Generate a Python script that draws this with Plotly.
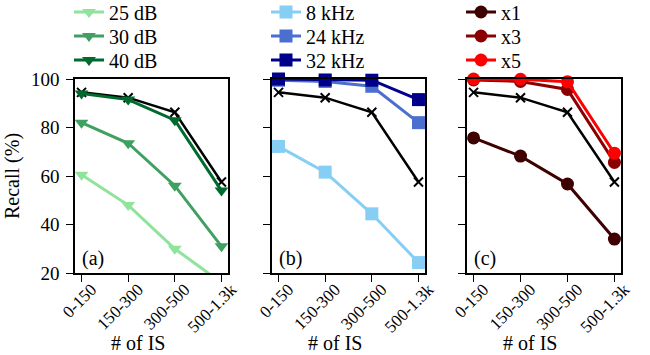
import plotly.graph_objects as go
from plotly.subplots import make_subplots

categories = ["0-150", "150-300", "300-500", "500-1.3k"]
baseline = [94.5, 92.3, 86.3, 57.5]

snr_names = ["25 dB", "30 dB", "40 dB"]
snr_values = [
    [60.5, 48, 30, 16],
    [82, 73.5, 56, 31],
    [94, 91.5, 83, 54],
]
snr_colors = ["#8fe39b", "#40a062", "#006b2e"]

rate_names = ["8 kHz", "24 kHz", "32 kHz"]
rate_values = [
    [72.2, 61.6, 44.4, 24.3],
    [99.5, 99, 97, 82],
    [100, 99.6, 99.5, 91.5],
]
rate_colors = ["#87cef5", "#4b6fcf", "#00008b"]

mult_names = ["x1", "x3", "x5"]
mult_values = [
    [75.7, 68.2, 56.7, 34],
    [99.6, 99, 95.7, 65.6],
    [100, 99.9, 98.9, 69.4],
]
mult_colors = ["#3f0000", "#8b0000", "#ff0000"]

panel_labels = ["(a)", "(b)", "(c)"]
x_title = "# of IS"
y_title = "Recall (%)"

FONT = "Liberation Serif"
TXT = "black"

W, H = 650, 355
ML, MR, MT, MB = 75, 29, 79, 82
PW, PH = W - ML - MR, H - MT - MB

def px_x(p):
    return (p - ML) / PW

def px_y(p):
    return (H - MB - p) / PH

fig = make_subplots(rows=1, cols=3)
panel_px = [(75, 228), (272, 425), (467, 621)]
doms = [[px_x(a), px_x(b)] for a, b in panel_px]

groups = [
    (snr_names, snr_values, snr_colors, "triangle-down", 12),
    (rate_names, rate_values, rate_colors, "square", 13),
    (mult_names, mult_values, mult_colors, "circle", 13),
]

row_y = [12, 36, 60]
legend_layout = {}
k = 0
for i, (names, vals, cols, sym, msz) in enumerate(groups):
    col = i + 1
    fig.add_trace(go.Scatter(
        x=categories, y=baseline, mode="lines+markers",
        line=dict(color="black", width=2.5),
        marker=dict(symbol="x-thin", size=9, line=dict(color="black", width=2)),
        showlegend=False, cliponaxis=False,
    ), row=1, col=col)
    for j, (n, v, c) in enumerate(zip(names, vals, cols)):
        k += 1
        lid = "legend" if k == 1 else f"legend{k}"
        clip = (n == "25 dB")
        fig.add_trace(go.Scatter(
            x=categories, y=v, mode="lines+markers", name=n,
            line=dict(color=c, width=3),
            marker=dict(symbol=sym, size=msz, color=c),
            legend=lid, cliponaxis=clip,
        ), row=1, col=col)
        legend_layout[lid] = dict(
            x=px_x(panel_px[i][0] - 6), y=px_y(row_y[j]), xanchor="left", yanchor="middle",
            bgcolor="rgba(0,0,0,0)", font=dict(family=FONT, size=20, color=TXT),
            itemwidth=30,
        )
    sfx = "" if col == 1 else str(col)
    fig.add_annotation(
        text=panel_labels[i], xref=f"x{sfx} domain", yref=f"y{sfx} domain",
        x=0.035, y=0.005, xanchor="left", yanchor="bottom", showarrow=False,
        font=dict(family=FONT, size=20, color=TXT),
    )
    fig.add_annotation(
        text=x_title, xref=f"x{sfx} domain", yref="paper",
        x=0.41, y=px_y(343), xanchor="center", yanchor="middle", showarrow=False,
        font=dict(family=FONT, size=20, color=TXT),
    )

for i in range(3):
    fig.update_xaxes(
        domain=doms[i], range=[-0.14, 3.14], showline=True, mirror=True,
        linecolor="black", linewidth=1.5, ticks="outside", ticklen=7,
        tickcolor="black", tickangle=-45, showgrid=False, zeroline=False,
        ticklabelshift=10, ticklabelstandoff=-9,
        tickfont=dict(family=FONT, size=17, color=TXT),
        row=1, col=i + 1,
    )
    fig.update_yaxes(
        range=[20, 100], tickvals=[20, 40, 60, 80, 100], showline=True, mirror=True,
        linecolor="black", linewidth=1.5, ticks="outside", ticklen=7,
        tickcolor="black", showgrid=False, zeroline=False,
        showticklabels=(i == 0), ticklabelstandoff=3,
        tickfont=dict(family=FONT, size=19, color=TXT),
        title=dict(text=y_title if i == 0 else "", font=dict(family=FONT, size=20, color=TXT), standoff=6),
        row=1, col=i + 1,
    )

fig.update_layout(
    width=W, height=H,
    margin=dict(l=ML, r=MR, t=MT, b=MB, autoexpand=False),
    plot_bgcolor="white", paper_bgcolor="white",
    **legend_layout,
)

fig.write_html("out.html", post_script="document.body.style.margin='0';",
               config={"displayModeBar": False})
